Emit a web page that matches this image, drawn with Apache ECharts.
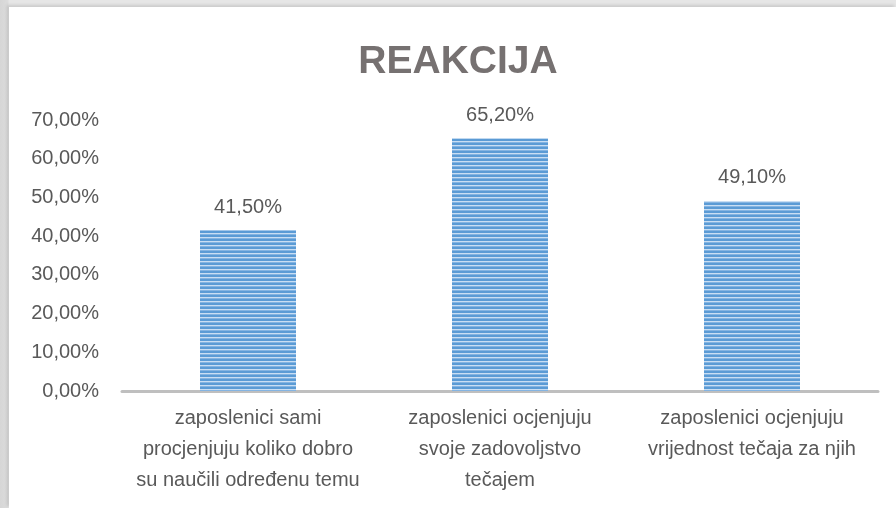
<!DOCTYPE html>
<html>
<head>
<meta charset="utf-8">
<title>REAKCIJA</title>
<script src="https://cdn.jsdelivr.net/npm/echarts@6/dist/echarts.min.js"></script>
<style>
  html, body { margin: 0; padding: 0; background: #e2e2e2; }
  #frame { position: relative; width: 896px; height: 508px; overflow: hidden;
           background: linear-gradient(90deg, #d6d6d6 0, #dcdcdc 8px, #e6e6e6 9px); }
  #chart { position: absolute; left: 9px; top: 7px; width: 887px; height: 501px;
           background: #fff; box-shadow: -2px -2px 3px rgba(0, 0, 0, 0.12); }
</style>
</head>
<body>
<div id="frame"><div id="chart"></div></div>
<script>
// Values
const categories = [
  'zaposlenici sami\nprocjenjuju koliko dobro\nsu naučili određenu temu',
  'zaposlenici ocjenjuju\nsvoje zadovoljstvo\ntečajem',
  'zaposlenici ocjenjuju\nvrijednost tečaja za njih'
];
const percentValues = [41.5, 65.2, 49.1];
const yTicks = { min: 0, max: 70, interval: 10 };

const textColor = '#595959';
const fontFamily = '"Liberation Sans", Arial, sans-serif';

// Horizontal stripe fill like the Office "narrow horizontal" pattern
function stripePattern() {
  const c = document.createElement('canvas');
  c.width = 4;
  c.height = 4;
  const ctx = c.getContext('2d');
  ctx.fillStyle = '#5b9bd5';
  ctx.fillRect(0, 0, 4, 2);
  ctx.fillStyle = '#c9def3';
  ctx.fillRect(0, 2, 4, 1);
  ctx.fillStyle = '#84b4e2';
  ctx.fillRect(0, 3, 4, 1);
  return c;
}

function pct(v) {
  return Number(v).toFixed(2).replace('.', ',') + '%';
}

const chart = echarts.init(document.getElementById('chart'), null, { renderer: 'canvas' });

chart.setOption({
  animation: false,
  backgroundColor: '#fff',
  title: {
    text: 'REAKCIJA',
    left: 444,
    textAlign: 'center',
    top: 31,
    textStyle: {
      color: '#767171',
      fontFamily: fontFamily,
      fontWeight: 'bold',
      fontSize: 39
    }
  },
  grid: { left: 113, right: 18, top: 113, bottom: 117, containLabel: false },
  xAxis: {
    type: 'category',
    data: categories,
    axisLine: { show: true, lineStyle: { color: '#bfbfbf', width: 3 } },
    axisTick: { show: false },
    axisLabel: {
      color: textColor,
      fontFamily: fontFamily,
      fontSize: 20,
      lineHeight: 31,
      margin: 12,
      interval: 0
    }
  },
  yAxis: {
    type: 'value',
    min: yTicks.min,
    max: yTicks.max,
    interval: yTicks.interval,
    axisLine: { show: false },
    axisTick: { show: false },
    splitLine: { show: false },
    axisLabel: {
      color: textColor,
      fontFamily: fontFamily,
      fontSize: 20,
      margin: 23,
      formatter: pct
    }
  },
  series: [{
    type: 'bar',
    data: percentValues,
    barWidth: 96,
    itemStyle: { color: { image: stripePattern(), repeat: 'repeat' } },
    label: {
      show: true,
      position: 'top',
      distance: 13,
      color: textColor,
      fontFamily: fontFamily,
      fontSize: 20,
      formatter: p => pct(p.value)
    }
  }]
});
</script>
</body>
</html>
